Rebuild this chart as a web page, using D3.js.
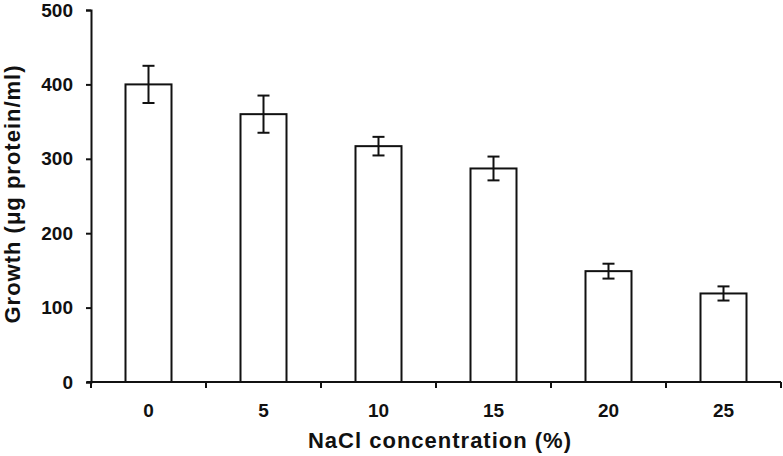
<!DOCTYPE html>
<html>
<head>
<meta charset="utf-8">
<script src="https://cdn.jsdelivr.net/npm/d3@7"></script>
<style>
  body { margin: 0; background: #fff; }
  text { font-family: "Liberation Sans", Arial, sans-serif; font-weight: bold; fill: #111; }
</style>
</head>
<body>
<div id="chart"></div>
<script>
const categories = ["0", "5", "10", "15", "20", "25"];
const growth = [400, 360, 317, 287, 149, 119];
const errors = [25, 25, 12.5, 16, 10, 9.5];
const yTicks = [0, 100, 200, 300, 400, 500];

const width = 783, height = 456;
const mLeft = 91, mRight = 781, mTop = 10, mBottom = 382;

const data = categories.map((c, i) => ({cat: c, val: growth[i], err: errors[i]}));

const svg = d3.select("#chart").append("svg")
    .attr("width", width)
    .attr("height", height);

const xScale = d3.scaleBand()
    .domain(categories)
    .range([mLeft, mRight])
    .paddingInner(0.6)
    .paddingOuter(0.3);

const yScale = d3.scaleLinear()
    .domain([0, 500])
    .range([mBottom, mTop]);

// bars
svg.selectAll("rect.bar")
    .data(data)
    .enter()
    .append("rect")
    .attr("class", "bar")
    .attr("x", d => xScale(d.cat))
    .attr("y", d => yScale(d.val))
    .attr("width", xScale.bandwidth())
    .attr("height", d => mBottom - yScale(d.val))
    .attr("fill", "#fff")
    .attr("stroke", "#111")
    .attr("stroke-width", 2);

// error bars
const cx = d => xScale(d.cat) + xScale.bandwidth() / 2;
const eb = svg.append("g").attr("stroke", "#111").attr("stroke-width", 2);
eb.selectAll("line.v").data(data).enter().append("line")
    .attr("x1", cx).attr("x2", cx)
    .attr("y1", d => yScale(d.val + d.err))
    .attr("y2", d => yScale(d.val - d.err));
eb.selectAll("line.t").data(data).enter().append("line")
    .attr("x1", d => cx(d) - 6).attr("x2", d => cx(d) + 6)
    .attr("y1", d => yScale(d.val + d.err))
    .attr("y2", d => yScale(d.val + d.err));
eb.selectAll("line.b").data(data).enter().append("line")
    .attr("x1", d => cx(d) - 6).attr("x2", d => cx(d) + 6)
    .attr("y1", d => yScale(d.val - d.err))
    .attr("y2", d => yScale(d.val - d.err));

// y axis
const yAxis = svg.append("g")
    .attr("transform", "translate(" + mLeft + ",0)")
    .call(d3.axisLeft(yScale).tickValues(yTicks).tickSize(5).tickPadding(13));
yAxis.select(".domain").attr("stroke", "#111").attr("stroke-width", 2);
yAxis.selectAll(".tick line").attr("stroke", "#111").attr("stroke-width", 2);
yAxis.selectAll(".tick text").style("font-size", "19px");

// x axis: ticks at category boundaries
const boundaries = d3.range(categories.length + 1).map(i => mLeft + i * (mRight - mLeft) / categories.length);
const xg = svg.append("g");
xg.append("line")
    .attr("x1", mLeft - 4).attr("x2", mRight)
    .attr("y1", mBottom).attr("y2", mBottom)
    .attr("stroke", "#111").attr("stroke-width", 2);
xg.selectAll("line.tk").data(boundaries).enter().append("line")
    .attr("x1", d => d).attr("x2", d => d)
    .attr("y1", mBottom).attr("y2", mBottom + 6)
    .attr("stroke", "#111").attr("stroke-width", 2);
xg.selectAll("text").data(categories).enter().append("text")
    .attr("x", d => xScale(d) + xScale.bandwidth() / 2)
    .attr("y", 417)
    .attr("text-anchor", "middle")
    .style("font-size", "19px")
    .text(d => d);

// titles
svg.append("text")
    .attr("x", 440)
    .attr("y", 448)
    .attr("text-anchor", "middle")
    .style("font-size", "22px")
    .style("letter-spacing", "1px")
    .text("NaCl concentration (%)");

svg.append("text")
    .attr("transform", "translate(20,194) rotate(-90)")
    .attr("text-anchor", "middle")
    .style("font-size", "22px")
    .style("letter-spacing", "1px")
    .text("Growth (μg protein/ml)");
</script>
</body>
</html>
